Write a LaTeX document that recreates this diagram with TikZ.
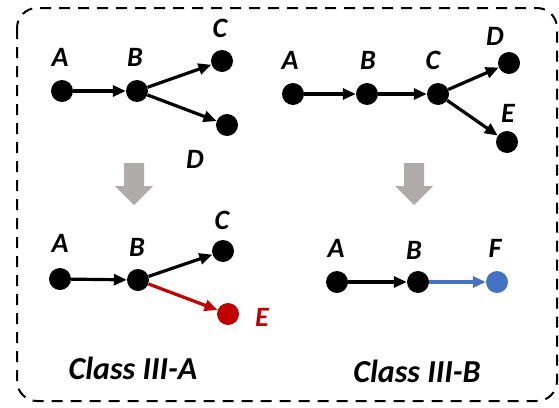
\documentclass[tikz,border=0pt]{standalone}
\usepackage{fontspec}
\setmainfont{Carlito}
\usepackage{xcolor}
\usetikzlibrary{arrows.meta}
\definecolor{addred}{RGB}{192,0,0}
\definecolor{addblue}{RGB}{68,114,196}
\definecolor{stepgray}{RGB}{175,171,171}
\tikzset{
  dot/.style={circle,fill=black,inner sep=0pt,minimum size=22pt},
  lbl/.style={font=\fontsize{28}{32}\selectfont\bfseries\itshape,inner sep=0pt},
  cls/.style={font=\fontsize{32}{36}\selectfont\bfseries\itshape,inner sep=0pt},
  link/.style={line width=3.2pt,-{Triangle[length=13pt,width=11pt]}},
}

\begin{document}
\begin{tikzpicture}[x=1pt,y=-1pt]
  \useasboundingbox (0,0) rectangle (559,407);
  \draw[line width=2pt,dash pattern=on 11pt off 8pt,rounded corners=20pt]
    (17,8) rectangle (557,401);

  % upper left: A -> B -> {C, D}
  \node[dot] (a1) at (62,91) {};
  \node[dot] (b1) at (137,91) {};
  \node[dot] (c1) at (222,61) {};
  \node[dot] (d1) at (227,125) {};
  \node[lbl] (la1) at (60,57) {A};
  \node[lbl] (lb1) at (135,57) {B};
  \node[lbl] (lc1) at (220,28) {C};
  \node[lbl] (ld1) at (195,159) {D};
  \draw[link] (a1) -- (b1);
  \draw[link] (b1) -- (c1);
  \draw[link] (b1) -- (d1);

  % upper right: A -> B -> C -> {D, E}
  \node[dot] (a2) at (293,94) {};
  \node[dot] (b2) at (367,94) {};
  \node[dot] (c2) at (438,94) {};
  \node[dot] (d2) at (509,63) {};
  \node[dot] (e2) at (507,142) {};
  \node[lbl] (la2) at (290,60) {A};
  \node[lbl] (lb2) at (368,60) {B};
  \node[lbl] (lc2) at (433,60) {C};
  \node[lbl] (ld2) at (495,36) {D};
  \node[lbl] (le2) at (508,113) {E};
  \draw[link] (a2) -- (b2);
  \draw[link] (b2) -- (c2);
  \draw[link] (c2) -- (d2);
  \draw[link] (c2) -- (e2);

  % grey down arrows
  \foreach \x in {134,414}
    \fill[stepgray] (\x-10,163) -- (\x+10,163) -- (\x+10,186) -- (\x+19,186)
      -- (\x,205) -- (\x-19,186) -- (\x-10,186) -- cycle;

  % lower left: class III-A
  \node[dot] (a3) at (60,279) {};
  \node[dot] (b3) at (138,280) {};
  \node[dot] (c3) at (223,251) {};
  \node[dot,fill=addred] (e3) at (228,314) {};
  \node[lbl] (la3) at (60,243) {A};
  \node[lbl] (lb3) at (137,247) {B};
  \node[lbl] (lc3) at (222,220) {C};
  \node[lbl,text=addred] (le3) at (262,317) {E};
  \draw[link] (a3) -- (b3);
  \draw[link] (b3) -- (c3);
  \draw[link,addred] (b3) -- (e3);
  \node[cls] (capa) at (133,368) {Class III-A};

  % lower right: class III-B
  \node[dot] (a4) at (337,282) {};
  \node[dot] (b4) at (418,282) {};
  \node[dot,fill=addblue] (f4) at (497,282) {};
  \node[lbl] (la4) at (336,248) {A};
  \node[lbl] (lb4) at (414,250) {B};
  \node[lbl] (lf4) at (495,248) {F};
  \draw[link] (a4) -- (b4);
  \draw[link,addblue] (b4) -- (f4);
  \node[cls] (capb) at (417,371) {Class III-B};
\end{tikzpicture}
\end{document}
